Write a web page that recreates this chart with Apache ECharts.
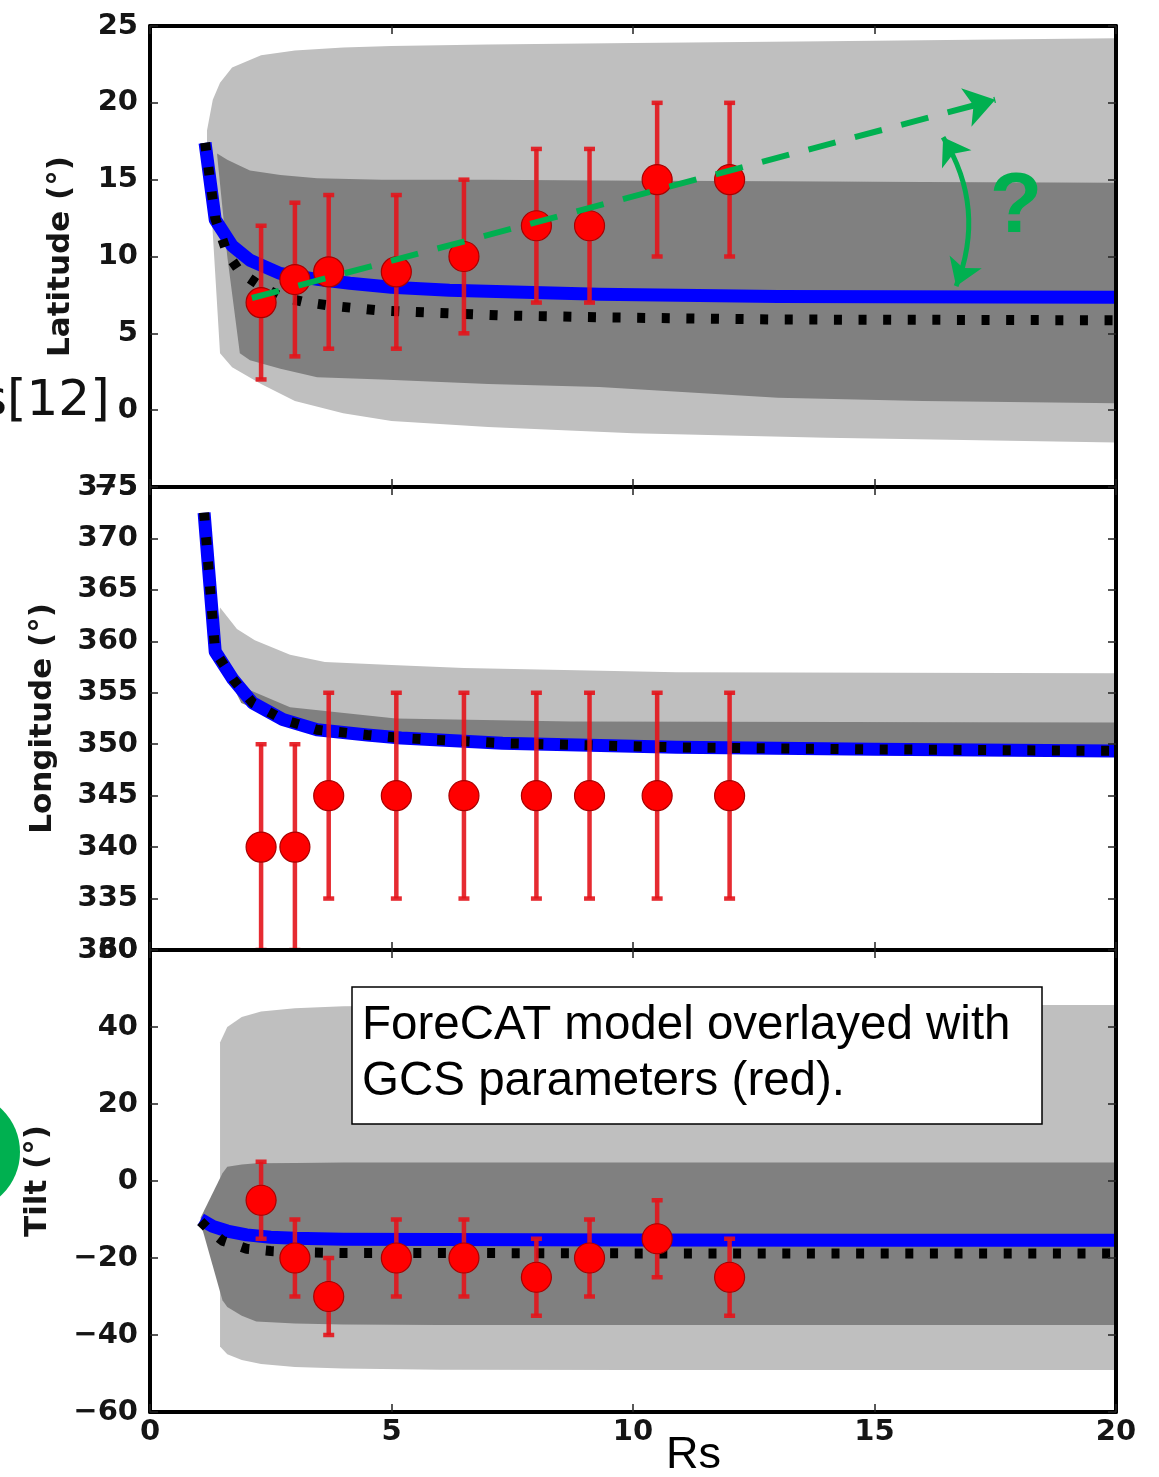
<!DOCTYPE html>
<html>
<head>
<meta charset="utf-8">
<script src="https://cdn.jsdelivr.net/npm/echarts@6/dist/echarts.min.js"></script>
<style>
  html, body { margin: 0; padding: 0; background: #fff; }
  #chart { width: 1159px; height: 1477px; }
</style>
</head>
<body>
<div id="chart"></div>
<script>
// ---- GCS fits (red points with error bars) ----
const rs        = [2.3, 3.0, 3.7, 5.1, 6.5, 8.0, 9.1, 10.5, 12.0];
const latObs    = [7, 8.5, 9, 9, 10, 12, 12, 15, 15];
const latErr    = [5, 5, 5, 5, 5, 5, 5, 5, 5];
const lonObs    = [340, 340, 345, 345, 345, 345, 345, 345, 345];
const lonErr    = [10, 10, 10, 10, 10, 10, 10, 10, 10];
const tiltObs   = [-5, -20, -30, -20, -20, -25, -20, -15, -25];
const tiltErr   = [10, 10, 10, 10, 10, 10, 10, 10, 10];

// ---- ForeCAT model tracks (blue solid / black dotted) ----
const latBlueX  = [1.14, 1.35, 1.7, 2.07, 2.69, 3.5, 4.14, 5, 6.2, 9.3, 13, 20];
const latBlueY  = [17.4, 12.4, 10.7, 9.76, 8.9, 8.5, 8.26, 8.0, 7.8, 7.55, 7.4, 7.35];
const latDotX   = [1.14, 1.35, 1.6, 1.86, 2.28, 2.69, 3.17, 3.73, 4.7, 5.73, 7.25, 9.32, 13, 20];
const latDotY   = [17.4, 12.5, 10.2, 9.0, 8.1, 7.4, 7.05, 6.8, 6.5, 6.36, 6.17, 6.04, 5.9, 5.85];

const lonModelX = [1.12, 1.35, 1.72, 2.13, 2.75, 3.46, 4.5, 5.2, 7.3, 10.9, 15, 20];
const lonModelY = [372.5, 359, 356.3, 354, 352.4, 351.4, 350.9, 350.6, 350.1, 349.7, 349.5, 349.35];

const tiltBlueX = [1.05, 1.3, 1.6, 2.0, 2.5, 3, 4, 6, 10, 15, 20];
const tiltBlueY = [-10, -11.8, -13, -14, -14.6, -14.9, -15.1, -15.2, -15.3, -15.4, -15.4];
const tiltDotX  = [1.05, 1.25, 1.5, 2.0, 2.5, 3, 4, 6, 10, 20];
const tiltDotY  = [-10.5, -13, -15.5, -17.6, -18.2, -18.5, -18.7, -18.7, -18.8, -18.8];

// ---- model spread (outer light band / inner dark band) ----
const latOuterX  = [1.18, 1.3, 1.45, 1.7, 2.3, 3, 4, 5, 7, 10, 14, 20];
const latOuterHi = [18.2, 20.2, 21.3, 22.3, 23.1, 23.4, 23.6, 23.7, 23.8, 23.9, 24.0, 24.2];
const latOuterLo = [17.5, 11.5, 3.7, 2.8, 1.7, 0.6, -0.2, -0.7, -1.1, -1.5, -1.8, -2.1];
const latInnerX  = [1.39, 1.6, 1.86, 2.07, 2.7, 3.46, 4.8, 7, 9.3, 13, 16, 20];
const latInnerHi = [16.7, 16.3, 15.9, 15.6, 15.3, 15.1, 15.0, 15.0, 14.95, 14.9, 14.85, 14.8];
const latInnerLo = [16.6, 10.0, 3.7, 3.25, 2.7, 2.15, 2.0, 1.7, 1.5, 0.8, 0.6, 0.45];

const lonOuterX  = [1.35, 1.45, 1.8, 2.17, 2.9, 3.62, 5.0, 6.5, 10.9, 20];
const lonOuterHi = [359.0, 363.3, 361.2, 360.1, 358.7, 358.0, 357.7, 357.4, 357.0, 356.9];
const lonOuterLo = [359.0, 358.0, 356.0, 354.0, 352.2, 351.4, 350.6, 350.2, 349.7, 349.35];
const lonInnerX  = [1.35, 1.89, 2.9, 5.09, 8.72, 20];
const lonInnerHi = [359.0, 355.6, 353.6, 352.5, 352.2, 352.1];
const lonInnerLo = [359.0, 354.0, 352.0, 350.6, 349.9, 349.35];

const tiltOuterX  = [1.45, 1.6, 1.9, 2.3, 3, 4, 6, 10, 20];
const tiltOuterHi = [36, 40, 42.6, 44, 44.9, 45.4, 45.6, 45.7, 45.7];
const tiltOuterLo = [-43, -45, -46.5, -47.5, -48.3, -48.7, -49, -49.1, -49.1];
const tiltInnerX  = [1.05, 1.5, 1.6, 1.9, 2.2, 3, 4, 6, 10, 20];
const tiltInnerHi = [-9.5, 2, 3.7, 4.3, 4.6, 4.7, 4.8, 4.8, 4.8, 4.8];
const tiltInnerLo = [-11, -31, -32.7, -35, -36.5, -37, -37.3, -37.4, -37.4, -37.4];

// ---- axes ----
const rsTicks   = [0, 5, 10, 15, 20];
const latTicks  = [-5, 0, 5, 10, 15, 20, 25];
const lonTicks  = [330, 335, 340, 345, 350, 355, 360, 365, 370, 375];
const tiltTicks = [-60, -40, -20, 0, 20, 40, 60];
const yTitles   = ['Latitude (°)', 'Longitude (°)', 'Tilt (°)'];
const xTitle    = 'Rs';

// ---- annotations on the latitude panel ----
const trendStart = [2.11, 7.3];
const trendEnd   = [17.5, 20.2];
const spreadTop  = [16.42, 17.76];
const spreadBot  = [16.69, 8.07];
const noteLines  = ['ForeCAT model overlayed with', 'GCS parameters (red).'];

const LIGHT = '#bfbfbf', DARK = '#808080', BLUE = '#0000ff', RED = '#ff0000', GREEN = '#00b050';
const TICK_FONT = { fontFamily: 'DejaVu Sans', fontWeight: 'bold', fontSize: 29, color: '#151515' };

const grids = [
  { left: 150, top: 26,  width: 966, height: 461 },
  { left: 150, top: 487, width: 966, height: 463 },
  { left: 150, top: 950, width: 966, height: 462 }
];
const yTickSets = [latTicks, lonTicks, tiltTicks];
const nameGaps = [74, 92, 97];

const frameLine = { show: true, onZero: false, lineStyle: { color: '#000', width: 4 } };
const inTick = { show: true, inside: true, length: 8, lineStyle: { color: '#222', width: 1.5 } };
const minus = v => String(v).replace('-', '\u2212');

const xAxes = [], yAxes = [];
[0, 1, 2].forEach(gi => {
  xAxes.push({
    type: 'value', gridIndex: gi, position: 'bottom', z: 20,
    min: rsTicks[0], max: rsTicks[rsTicks.length - 1], interval: rsTicks[1] - rsTicks[0],
    axisLine: frameLine, axisTick: inTick, splitLine: { show: false },
    axisLabel: Object.assign({ show: gi === 2, margin: 6, showMinLabel: true, showMaxLabel: true }, TICK_FONT)
  });
});
[0, 1, 2].forEach(gi => {
  xAxes.push({
    type: 'value', gridIndex: gi, position: 'top', z: 20,
    min: rsTicks[0], max: rsTicks[rsTicks.length - 1], interval: rsTicks[1] - rsTicks[0],
    axisLine: frameLine, axisTick: inTick, splitLine: { show: false }, axisLabel: { show: false }
  });
});
[0, 1, 2].forEach(gi => {
  const t = yTickSets[gi];
  yAxes.push({
    type: 'value', gridIndex: gi, position: 'left', z: 20,
    min: t[0], max: t[t.length - 1], interval: t[1] - t[0],
    axisLine: frameLine, axisTick: inTick, splitLine: { show: false },
    axisLabel: Object.assign({ margin: 12, showMinLabel: true, showMaxLabel: true, formatter: minus }, TICK_FONT),
    name: yTitles[gi], nameLocation: 'middle', nameRotate: 90, nameGap: nameGaps[gi],
    nameTextStyle: { fontFamily: 'DejaVu Sans', fontWeight: 'bold', fontSize: 31, color: '#151515' }
  });
});
[0, 1, 2].forEach(gi => {
  const t = yTickSets[gi];
  yAxes.push({
    type: 'value', gridIndex: gi, position: 'right', z: 20,
    min: t[0], max: t[t.length - 1], interval: t[1] - t[0],
    axisLine: frameLine, axisTick: inTick, splitLine: { show: false }, axisLabel: { show: false }
  });
});

// filled spread between a lower and an upper bound
function band(gi, xs, lo, hi, color, z) {
  return {
    type: 'custom', xAxisIndex: gi, yAxisIndex: gi, z: z, clip: true, silent: true,
    data: xs.map((x, i) => [x, lo[i], hi[i]]),
    encode: { x: 0, y: [1, 2] },
    renderItem(params, api) {
      if (params.dataIndex !== 0) return null;
      const top = xs.map((x, i) => api.coord([x, hi[i]]));
      const bot = xs.map((x, i) => api.coord([x, lo[i]])).reverse();
      return { type: 'polygon', shape: { points: top.concat(bot) }, style: { fill: color } };
    }
  };
}

function track(gi, xs, ys, style, z) {
  return {
    type: 'line', xAxisIndex: gi, yAxisIndex: gi, z: z, silent: true,
    showSymbol: false, symbol: 'none', clip: true,
    data: xs.map((x, i) => [x, ys[i]]),
    lineStyle: style
  };
}

function errorBars(gi, xs, ys, errs) {
  return {
    type: 'custom', xAxisIndex: gi, yAxisIndex: gi, z: 5, clip: true, silent: true,
    data: xs.map((x, i) => [x, ys[i] - errs[i], ys[i] + errs[i]]),
    encode: { x: 0, y: [1, 2] },
    renderItem(params, api) {
      const lo = api.coord([api.value(0), api.value(1)]);
      const hi = api.coord([api.value(0), api.value(2)]);
      const cw = 5.5;
      const st = { stroke: '#e3141b', lineWidth: 4.5, opacity: 0.9 };
      return {
        type: 'group',
        children: [
          { type: 'line', shape: { x1: lo[0], y1: lo[1], x2: hi[0], y2: hi[1] }, style: st },
          { type: 'line', shape: { x1: lo[0] - cw, y1: lo[1], x2: lo[0] + cw, y2: lo[1] }, style: st },
          { type: 'line', shape: { x1: hi[0] - cw, y1: hi[1], x2: hi[0] + cw, y2: hi[1] }, style: st }
        ]
      };
    }
  };
}

function points(gi, xs, ys) {
  return {
    type: 'scatter', xAxisIndex: gi, yAxisIndex: gi, z: 6, silent: true,
    symbol: 'circle', symbolSize: 30,
    itemStyle: { color: RED, borderColor: '#a80000', borderWidth: 1.2, opacity: 1 },
    data: xs.map((x, i) => [x, ys[i]])
  };
}

const blueStyle = { color: BLUE, width: 13, cap: 'butt', join: 'round' };
const dotStyle  = { color: '#000', width: 10, type: [8, 16.6], cap: 'butt' };

const series = [
  // latitude
  band(0, latOuterX, latOuterLo, latOuterHi, LIGHT, 1),
  band(0, latInnerX, latInnerLo, latInnerHi, DARK, 2),
  track(0, latBlueX, latBlueY, blueStyle, 3),
  track(0, latDotX, latDotY, dotStyle, 4),
  errorBars(0, rs, latObs, latErr),
  points(0, rs, latObs),
  // longitude
  band(1, lonOuterX, lonOuterLo, lonOuterHi, LIGHT, 1),
  band(1, lonInnerX, lonInnerLo, lonInnerHi, DARK, 2),
  track(1, lonModelX, lonModelY, blueStyle, 3),
  track(1, lonModelX, lonModelY, dotStyle, 4),
  errorBars(1, rs, lonObs, lonErr),
  points(1, rs, lonObs),
  // tilt
  band(2, tiltOuterX, tiltOuterLo, tiltOuterHi, LIGHT, 1),
  band(2, tiltInnerX, tiltInnerLo, tiltInnerHi, DARK, 2),
  track(2, tiltBlueX, tiltBlueY, blueStyle, 3),
  track(2, tiltDotX, tiltDotY, dotStyle, 4),
  errorBars(2, rs, tiltObs, tiltErr),
  points(2, rs, tiltObs),
  // trend of the fitted latitudes
  {
    type: 'lines', coordinateSystem: 'cartesian2d', xAxisIndex: 0, yAxisIndex: 0, z: 9, silent: true,
    symbol: ['none', 'arrow'], symbolSize: 30,
    lineStyle: { color: GREEN, width: 6, type: [28, 20], opacity: 1 },
    itemStyle: { color: GREEN },
    data: [{ coords: [trendStart, trendEnd] }]
  },
  // gap between trend and model
  {
    type: 'lines', coordinateSystem: 'cartesian2d', xAxisIndex: 0, yAxisIndex: 0, z: 9, silent: true,
    symbol: ['arrow', 'arrow'], symbolSize: 26,
    lineStyle: { color: GREEN, width: 5, curveness: 0.25, opacity: 1 },
    itemStyle: { color: GREEN },
    data: [{ coords: [spreadTop, spreadBot] }]
  }
];

const chart = echarts.init(document.getElementById('chart'), null, { renderer: 'canvas' });
chart.setOption({
  animation: false,
  backgroundColor: '#fff',
  grid: grids,
  xAxis: xAxes,
  yAxis: yAxes,
  series: series,
  graphic: [
    { type: 'circle', shape: { cx: -39.5, cy: 1152, r: 59.5 }, style: { fill: GREEN }, z: 30 },
    { type: 'text', x: -19, y: 402, z: 30,
      style: { text: 's[12]', font: '50px "DejaVu Sans"', fill: '#111', verticalAlign: 'middle', align: 'left' } },
    { type: 'text', x: 1016, y: 208, z: 30,
      style: { text: '?', font: 'bold 86px "Liberation Sans"', fill: GREEN, align: 'center', verticalAlign: 'middle' } },
    { type: 'rect', z: 30, shape: { x: 352, y: 987, width: 690, height: 137 },
      style: { fill: '#fff', stroke: '#000', lineWidth: 1.5 } },
    { type: 'text', x: 362, y: 1026, z: 31,
      style: { text: noteLines[0], font: '47.5px "Liberation Sans"', fill: '#000', verticalAlign: 'middle' } },
    { type: 'text', x: 362, y: 1082, z: 31,
      style: { text: noteLines[1], font: '47.5px "Liberation Sans"', fill: '#000', verticalAlign: 'middle' } },
    { type: 'text', x: 666, y: 1456, z: 30,
      style: { text: xTitle, font: '45px "Liberation Sans"', fill: '#000', verticalAlign: 'middle' } }
  ]
});
</script>
</body>
</html>
